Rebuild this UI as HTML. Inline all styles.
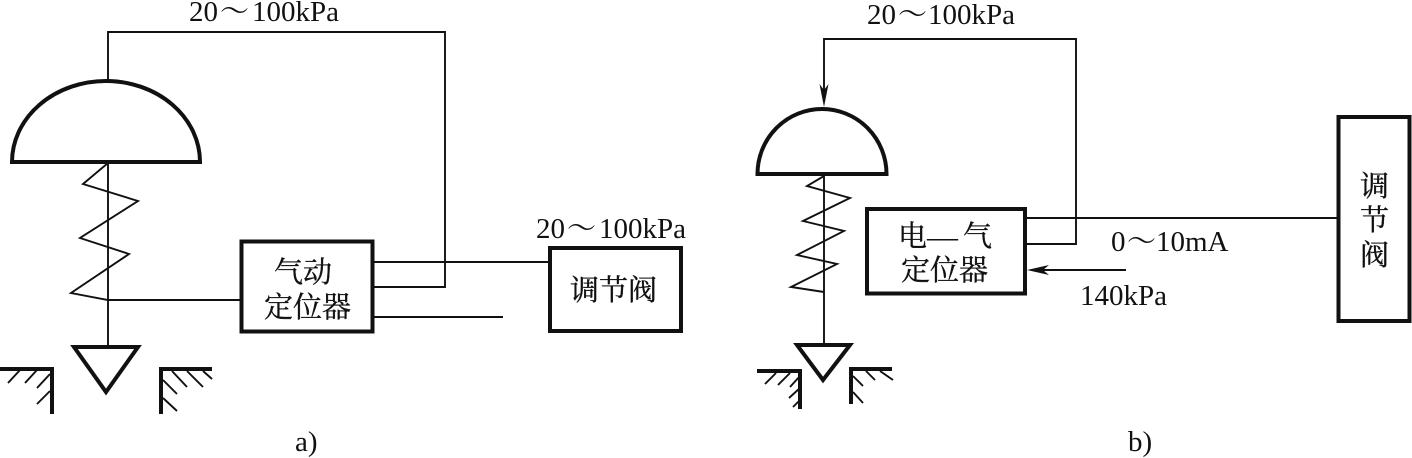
<!DOCTYPE html>
<html lang="zh">
<head>
<meta charset="utf-8">
<style>
html,body{margin:0;padding:0;background:#fff;width:1412px;height:458px;overflow:hidden}
svg{display:block}
.t{fill:none;stroke:#111;stroke-width:1.9;stroke-linejoin:miter}
.h{fill:none;stroke:#111;stroke-width:4;stroke-linejoin:miter}
.l{font-family:"Liberation Serif","Noto Serif CJK SC",serif;font-size:29px;fill:#111}
.c{font-family:"Noto Serif CJK SC","Liberation Serif",serif;font-size:29px;fill:#111;stroke:#111;stroke-width:.35}
.w{font-family:"Noto Serif CJK SC","Liberation Serif",serif;font-size:29px;fill:#111}
</style>
</head>
<body>
<svg width="1412" height="458" viewBox="0 0 1412 458" xmlns="http://www.w3.org/2000/svg">
<!-- a) -->
<path class="t" d="M108 80V32H445V287H373"/>
<path class="t" d="M373 262H550"/>
<path class="t" d="M373 317H503"/>
<path class="h" d="M12 162A94 81 0 0 1 200 162Z"/>
<path class="t" d="M108 163V347"/>
<path class="t" d="M108 163L83 184L138 201L80 238L129 254L71 293L108 300H241"/>
<rect class="h" x="241.500" y="241.500" width="131" height="90"/>
<rect class="h" x="550" y="248" width="131" height="83"/>
<path class="h" d="M74 347H138L106 392Z"/>
<path class="h" d="M0 369H52V414"/>
<path class="h" d="M212 369H161V414"/>
<path class="t" d="M8 383L20 370M25 383L37 370M37 388L50 374M37 404L50 391"/>
<path class="t" d="M172 371L187 387M187 371L203 387M203 371L212 379M163 380L177 394M163 398L177 411"/>
<text class="l" x="189" y="21">20</text><text class="w" x="220" y="21">～</text><text class="l" x="252" y="21">100kPa</text>
<text class="l" x="536" y="238">20</text><text class="w" x="567" y="238">～</text><text class="l" x="599" y="238">100kPa</text>
<text class="c" x="274" y="282">气动</text>
<text class="c" x="264" y="317">定位器</text>
<text class="c" x="570" y="300">调节阀</text>
<text class="l" x="295" y="451">a)</text>
<!-- b) -->
<path class="t" d="M824 90V39H1076V244H1025"/>
<path d="M824 107L819.500 84L824 90L828.500 84Z" fill="#111"/>
<path class="t" d="M1025 218H1338"/>
<path class="t" d="M1126 270H1040"/>
<path d="M1027 270L1049 265L1043 270L1049 275Z" fill="#111"/>
<path class="h" d="M757.500 174A64.500 65 0 0 1 886.500 174Z"/>
<path class="t" d="M824 176V345"/>
<path class="t" d="M824 176L807 186L850 198L803 221L844 231L797 255L837 264L791 287L824 292"/>
<rect class="h" x="867" y="209" width="158" height="84.500"/>
<rect class="h" x="1338.500" y="117" width="71" height="204"/>
<path class="h" d="M797 345H850L823 380Z"/>
<path class="h" d="M757 371H800V409"/>
<path class="h" d="M892 369H851V404"/>
<path class="t" d="M765 384L776 373M778 385L790 373M790 387L800 376M789 398L800 388M793 407L800 400"/>
<path class="t" d="M866 371L875 380M880 371L893 380M853 376L863 386M853 392L863 403"/>
<text class="l" x="867" y="24">20</text><text class="w" x="898" y="24">～</text><text class="l" x="928" y="24">100kPa</text>
<text class="c" x="898" y="246">电</text><text x="927" y="247" style="font-family:'Liberation Serif',serif;font-size:31px;fill:#111">—</text><text class="c" x="963" y="246">气</text>
<text class="c" x="901" y="280">定位器</text>
<text class="l" x="1111" y="251">0</text><text class="w" x="1127" y="251">～</text><text class="l" x="1156" y="251">10mA</text>
<text class="l" x="1080" y="305">140kPa</text>
<text class="c" x="1360" y="196">调</text>
<text class="c" x="1360" y="230">节</text>
<text class="c" x="1360" y="265">阀</text>
<text class="l" x="1128" y="451">b)</text>
</svg>
</body>
</html>
